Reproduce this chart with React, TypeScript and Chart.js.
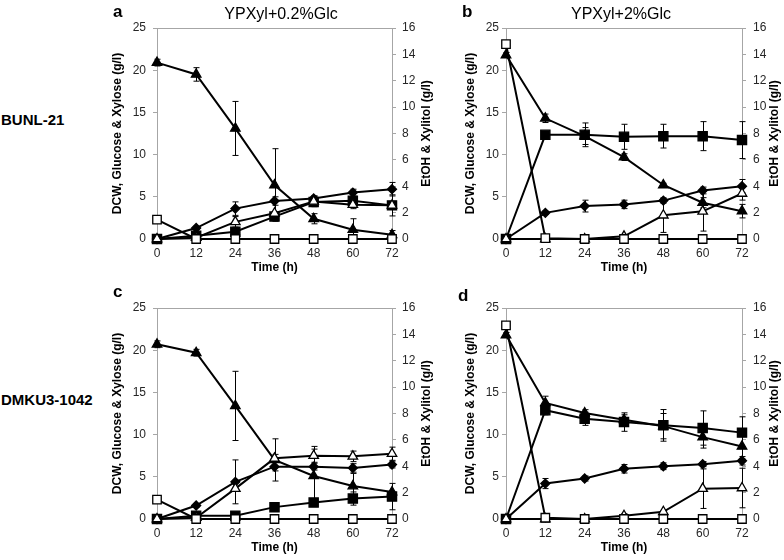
import React, { useEffect, useRef } from 'react';
import Chart from 'chart.js/auto';

// ---------- data ----------
const timeH = [0, 12, 24, 36, 48, 60, 72];
const leftAxisTitle = 'DCW, Glucose & Xylose (g/l)';
const rightAxisTitle = 'EtOH & Xylitol (g/l)';
const xAxisTitle = 'Time (h)';
const strainLabels = ['BUNL-21', 'DMKU3-1042'];
const mediumTitles = ['YPXyl+0.2%Glc', 'YPXyl+2%Glc'];
const panelLetters = ['a', 'b', 'c', 'd'];

// panel a: BUNL-21, YPXyl+0.2%Glc
const aXylose = [20.9, 19.5, 13.1, 6.4, 2.4, 1.1, 0.5];
const aXyloseErr = [0.4, 0.8, 3.2, 4.3, 0.6, 1.3, 0.5];
const aGlucose = [2.3, 0, 0, 0, 0, 0, 0];
const aDcw = [0, 1.3, 3.6, 4.5, 4.8, 5.5, 5.9];
const aDcwErr = [0, 0.2, 0.8, 0.5, 0.3, 0.4, 0.8];
const aEthanol = [0, 0.25, 0.55, 1.7, 2.8, 2.9, 2.55];
const aEthanolErr = [0, 0, 0, 0, 0.2, 0.3, 0.8];
const aXylitol = [0, 0.1, 1.3, 1.95, 2.85, 2.6, 2.55];
const aXylitolErr = [0, 0, 0.4, 0, 0.4, 0.3, 0.3];

// panel b: BUNL-21, YPXyl+2%Glc
const bXylose = [21.8, 14.3, 12.2, 9.7, 6.4, 4.3, 3.3];
const bXyloseErr = [0.3, 0.5, 1.0, 0.4, 0.2, 0.6, 0.8];
const bGlucose = [23.1, 0.1, 0, 0, 0, 0, 0];
const bDcw = [0, 3.1, 3.9, 4.1, 4.55, 5.75, 6.25];
const bDcwErr = [0, 0.2, 0.7, 0.5, 0.3, 0.4, 0.8];
const bEthanol = [0, 7.9, 7.9, 7.75, 7.8, 7.8, 7.5];
const bEthanolErr = [0, 0, 0.9, 0.95, 0.9, 1.1, 1.4];
const bXylitol = [0, 0, 0, 0.2, 1.8, 2.1, 3.45];
const bXylitolErr = [0, 0, 0, 0, 1.3, 1.5, 0.5];

// panel c: DMKU3-1042, YPXyl+0.2%Glc
const cXylose = [20.7, 19.7, 13.4, 7.0, 5.1, 3.9, 3.2];
const cXyloseErr = [0.4, 0.4, 4.1, 2.5, 3.5, 1.5, 0];
const cGlucose = [2.3, 0, 0, 0, 0, 0, 0];
const cDcw = [0, 1.6, 4.4, 6.2, 6.2, 6.05, 6.45];
const cDcwErr = [0, 0.2, 2.6, 0.5, 0.4, 0.5, 0.4];
const cEthanol = [0, 0.25, 0.25, 0.9, 1.25, 1.55, 1.7];
const cEthanolErr = [0, 0, 0, 0, 0, 0.5, 1.0];
const cXylitol = [0, 0.1, 2.3, 4.6, 4.8, 4.75, 4.95];
const cXylitolErr = [0, 0, 0, 0.3, 0.5, 0.4, 0.5];

// panel d: DMKU3-1042, YPXyl+2%Glc
const dXylose = [21.8, 13.75, 12.55, 11.75, 11.0, 9.7, 8.6];
const dXyloseErr = [0.3, 0.8, 0.4, 0.6, 1.5, 1.3, 1.5];
const dGlucose = [22.95, 0.15, 0, 0, 0, 0, 0];
const dDcw = [0, 4.2, 4.8, 5.95, 6.25, 6.5, 6.9];
const dDcwErr = [0, 0.6, 0.3, 0.5, 0.4, 0.3, 0.5];
const dEthanol = [0, 8.25, 7.6, 7.35, 7.1, 6.9, 6.55];
const dEthanolErr = [0, 0.35, 0.5, 0.7, 1.2, 1.3, 1.2];
const dXylitol = [0, 0, 0, 0.25, 0.55, 2.3, 2.35];
const dXylitolErr = [0, 0, 0, 0.15, 0.1, 1.5, 1.5];

// ---------- style / layout ----------
const FONT = 'Arial, "Liberation Sans", Helvetica, sans-serif';
const AXIS_GRAY = '#a6a6a6';
const TICK_COLOR = '#262626';

type PanelCfg = {
  left: number; top: number; width: number;
  wL: number; wR: number; padL: number; padR: number;
  xylose: number[]; xyloseErr: number[];
  glucose: number[];
  dcw: number[]; dcwErr: number[];
  ethanol: number[]; ethanolErr: number[];
  xylitol: number[]; xylitolErr: number[];
};

const panels: PanelCfg[] = [
  { left: 110, top: 0, width: 324, wL: 47, wR: 42, padL: 7, padR: 6,
    xylose: aXylose, xyloseErr: aXyloseErr, glucose: aGlucose, dcw: aDcw, dcwErr: aDcwErr,
    ethanol: aEthanol, ethanolErr: aEthanolErr, xylitol: aXylitol, xylitolErr: aXylitolErr },
  { left: 463, top: 0, width: 319, wL: 43, wR: 40, padL: 3, padR: 7,
    xylose: bXylose, xyloseErr: bXyloseErr, glucose: bGlucose, dcw: bDcw, dcwErr: bDcwErr,
    ethanol: bEthanol, ethanolErr: bEthanolErr, xylitol: bXylitol, xylitolErr: bXylitolErr },
  { left: 110, top: 280, width: 324, wL: 47, wR: 42, padL: 7, padR: 6,
    xylose: cXylose, xyloseErr: cXyloseErr, glucose: cGlucose, dcw: cDcw, dcwErr: cDcwErr,
    ethanol: cEthanol, ethanolErr: cEthanolErr, xylitol: cXylitol, xylitolErr: cXylitolErr },
  { left: 463, top: 280, width: 319, wL: 43, wR: 40, padL: 3, padR: 7,
    xylose: dXylose, xyloseErr: dXyloseErr, glucose: dGlucose, dcw: dDcw, dcwErr: dDcwErr,
    ethanol: dEthanol, ethanolErr: dEthanolErr, xylitol: dXylitol, xylitolErr: dXylitolErr },
];

const errorBarPlugin = {
  id: 'errorBars',
  beforeDatasetsDraw(chart: any) {
    const { ctx, chartArea } = chart;
    const xScale = chart.scales.x;
    ctx.save();
    ctx.beginPath();
    ctx.rect(chartArea.left - 10, chartArea.top - 10, chartArea.right - chartArea.left + 20, chartArea.bottom - chartArea.top + 10);
    ctx.clip();
    ctx.strokeStyle = '#000';
    ctx.lineWidth = 1;
    chart.data.datasets.forEach((ds: any) => {
      const errs: number[] | undefined = ds.errors;
      if (!errs) return;
      const yScale = chart.scales[ds.yAxisID];
      ds.data.forEach((pt: any, j: number) => {
        const e = errs[j];
        if (!e) return;
        const x = Math.round(xScale.getPixelForValue(pt.x)) + 0.5;
        const yTop = yScale.getPixelForValue(pt.y + e);
        const yBot = yScale.getPixelForValue(pt.y - e);
        ctx.beginPath();
        ctx.moveTo(x, yTop);
        ctx.lineTo(x, yBot);
        ctx.moveTo(x - 3, yTop);
        ctx.lineTo(x + 3, yTop);
        ctx.moveTo(x - 3, yBot);
        ctx.lineTo(x + 3, yBot);
        ctx.stroke();
      });
    });
    ctx.restore();
  },
};

const framePlugin = {
  id: 'frame',
  beforeDatasetsDraw(chart: any) {
    const { ctx, chartArea } = chart;
    ctx.save();
    ctx.strokeStyle = AXIS_GRAY;
    ctx.lineWidth = 1;
    ctx.beginPath();
    ctx.moveTo(chartArea.left, Math.round(chartArea.top) + 0.5);
    ctx.lineTo(chartArea.right, Math.round(chartArea.top) + 0.5);
    ctx.stroke();
    ctx.restore();
  },
  afterDraw(chart: any) {
    const { ctx, chartArea } = chart;
    const y1 = chart.scales.y1;
    ctx.save();
    ctx.fillStyle = '#000';
    ctx.font = `bold 12px ${FONT}`;
    ctx.textAlign = 'center';
    ctx.textBaseline = 'middle';
    ctx.translate(y1.right - 7.2, (chartArea.top + chartArea.bottom) / 2);
    ctx.rotate(-Math.PI / 2);
    ctx.fillText(rightAxisTitle, 0, 0);
    ctx.restore();
  },
};

function ChartPanel({ p }: { p: PanelCfg }) {
  const ref = useRef<HTMLCanvasElement>(null);
  useEffect(() => {
    if (!ref.current) return;
    const pts = (vals: number[]) => vals.map((v, i) => ({ x: timeH[i], y: v }));
    const common = {
      borderColor: '#000',
      borderWidth: 2,
      pointBorderColor: '#000',
      pointBorderWidth: 1.3,
      clip: false,
      tension: 0,
    };
    const tickFont = { family: FONT, size: 12 };
    const titleFont = { family: FONT, size: 12, weight: 'bold' as const };
    const chart = new Chart(ref.current, {
      type: 'line',
      data: {
        datasets: [
          { ...common, label: 'Glucose', data: pts(p.glucose), yAxisID: 'y',
            pointStyle: 'rect', pointRadius: 6, pointBackgroundColor: '#fff' },
          { ...common, label: 'Xylitol', data: pts(p.xylitol), yAxisID: 'y1', errors: p.xylitolErr,
            pointStyle: 'triangle', pointRadius: 5.5, pointBackgroundColor: '#fff' },
          { ...common, label: 'DCW', data: pts(p.dcw), yAxisID: 'y', errors: p.dcwErr,
            pointStyle: 'rectRot', pointRadius: 4.5, pointBackgroundColor: '#000' },
          { ...common, label: 'Ethanol', data: pts(p.ethanol), yAxisID: 'y1', errors: p.ethanolErr,
            pointStyle: 'rect', pointRadius: 6.5, pointBackgroundColor: '#000' },
          { ...common, label: 'Xylose', data: pts(p.xylose), yAxisID: 'y', errors: p.xyloseErr,
            pointStyle: 'triangle', pointRadius: 5.5, pointBackgroundColor: '#000' },
        ] as any,
      },
      options: {
        responsive: false,
        animation: false,
        events: [],
        layout: { padding: { top: 28, bottom: 5, left: 0, right: 0 } },
        plugins: { legend: { display: false }, tooltip: { enabled: false }, title: { display: false } },
        scales: {
          x: {
            type: 'linear', min: 0, max: 72,
            ticks: { stepSize: 12, padding: 3, font: tickFont, color: TICK_COLOR, maxRotation: 0 },
            grid: { drawOnChartArea: false, tickLength: 4, color: AXIS_GRAY },
            border: { color: AXIS_GRAY },
            title: { display: true, text: xAxisTitle, font: titleFont, color: '#000', padding: 0 },
            afterFit: (s: any) => { s.height = 36; },
          },
          y: {
            position: 'left', min: 0, max: 25,
            ticks: { stepSize: 5, padding: p.padL, font: tickFont, color: TICK_COLOR },
            grid: { drawOnChartArea: false, tickLength: 4, color: AXIS_GRAY },
            border: { color: AXIS_GRAY },
            title: { display: true, text: leftAxisTitle, font: titleFont, color: '#000', padding: 0 },
            afterFit: (s: any) => { s.width = p.wL; },
          },
          y1: {
            position: 'right', min: 0, max: 16,
            ticks: { stepSize: 2, padding: p.padR, font: tickFont, color: TICK_COLOR },
            grid: { drawOnChartArea: false, tickLength: 4, color: AXIS_GRAY },
            border: { color: AXIS_GRAY },
            title: { display: false },
            afterFit: (s: any) => { s.width = p.wR; },
          },
        },
      } as any,
      plugins: [framePlugin, errorBarPlugin],
    });
    return () => chart.destroy();
  }, [p]);
  return (
    <canvas
      ref={ref}
      width={p.width}
      height={280}
      style={{ position: 'absolute', left: p.left, top: p.top, width: p.width, height: 280 }}
    />
  );
}

const textBase: React.CSSProperties = { position: 'absolute', fontFamily: FONT, color: '#000', lineHeight: 1, whiteSpace: 'nowrap' };

export default function App() {
  return (
    <div style={{ position: 'absolute', left: 0, top: 0, width: 784, height: 560, background: '#fff', overflow: 'hidden' }}>
      {panels.map((p, i) => <ChartPanel key={i} p={p} />)}
      <div style={{ ...textBase, left: 113, top: 3, fontSize: 17, fontWeight: 'bold' }}>{panelLetters[0]}</div>
      <div style={{ ...textBase, left: 462, top: 3, fontSize: 17, fontWeight: 'bold' }}>{panelLetters[1]}</div>
      <div style={{ ...textBase, left: 113, top: 283, fontSize: 17, fontWeight: 'bold' }}>{panelLetters[2]}</div>
      <div style={{ ...textBase, left: 458, top: 287, fontSize: 17, fontWeight: 'bold' }}>{panelLetters[3]}</div>
      <div style={{ ...textBase, left: 281, top: 6, fontSize: 16, transform: 'translateX(-50%)' }}>{mediumTitles[0]}</div>
      <div style={{ ...textBase, left: 621, top: 6, fontSize: 16, transform: 'translateX(-50%)' }}>{mediumTitles[1]}</div>
      <div style={{ ...textBase, left: 1, top: 112, fontSize: 15, fontWeight: 'bold' }}>{strainLabels[0]}</div>
      <div style={{ ...textBase, left: 1, top: 392, fontSize: 15, fontWeight: 'bold' }}>{strainLabels[1]}</div>
    </div>
  );
}
